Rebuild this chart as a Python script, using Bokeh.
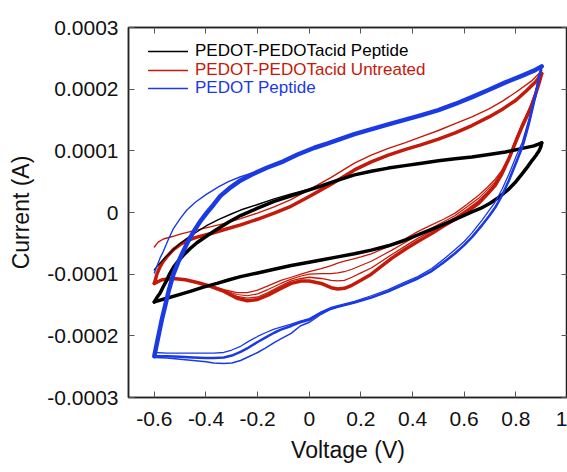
import numpy as np
from bokeh.plotting import figure
from bokeh.models import (Range1d, LinearAxis, FixedTicker, CustomJSTickFormatter,
                          Legend, LegendItem)
from bokeh.embed import file_html
from bokeh.resources import INLINE

# ---------------- data (current values in units of 1e-4 A) ----------------
UNIT = 1e-4

x_ticks = [-0.6, -0.4, -0.2, 0.0, 0.2, 0.4, 0.6, 0.8, 1.0]
y_ticks = [-3e-4, -2e-4, -1e-4, 0.0, 1e-4, 2e-4, 3e-4]

labels = ["PEDOT-PEDOTacid Peptide", "PEDOT-PEDOTacid Untreated", "PEDOT Peptide"]

# PEDOT-PEDOTacid Peptide (black)
v_blk_fwd1 = [-0.6, -0.585, -0.565, -0.545, -0.526, -0.5, -0.46, -0.43, -0.396, -0.35,
              -0.3, -0.266, -0.2, -0.136, -0.07, 0.0, 0.046]
i_blk_fwd1 = [-0.93, -0.85, -0.76, -0.68, -0.60, -0.50, -0.38, -0.30, -0.21, -0.11,
              -0.02, 0.04, 0.13, 0.22, 0.30, 0.38, 0.44]
v_blk_fwd = [-0.6, -0.59, -0.578, -0.565, -0.552, -0.54, -0.526, -0.51, -0.487, -0.46,
             -0.435, -0.4, -0.357, -0.31, -0.266, -0.2, -0.136, -0.07, -0.006, 0.046,
             0.1, 0.175, 0.24, 0.306, 0.37, 0.435, 0.5, 0.565, 0.63, 0.696, 0.76,
             0.825, 0.87, 0.9]
i_blk_fwd = [-1.45, -1.38, -1.31, -1.20, -1.10, -0.99, -0.89, -0.80, -0.69, -0.58,
             -0.49, -0.39, -0.27, -0.15, -0.05, 0.07, 0.18, 0.27, 0.36, 0.43,
             0.51, 0.61, 0.67, 0.72, 0.76, 0.80, 0.84, 0.87, 0.90, 0.94, 0.98,
             1.04, 1.08, 1.13]
v_blk_rev = [0.9, 0.897, 0.89, 0.877, 0.864, 0.845, 0.825, 0.8, 0.77, 0.735, 0.7,
             0.665, 0.63, 0.565, 0.5, 0.435, 0.37, 0.306, 0.24, 0.175, 0.11, 0.046,
             -0.006, -0.07, -0.136, -0.2, -0.266, -0.31, -0.357, -0.41, -0.461,
             -0.51, -0.552, -0.6]
i_blk_rev = [1.13, 1.07, 1.00, 0.92, 0.85, 0.74, 0.63, 0.50, 0.37, 0.25, 0.15,
             0.07, 0.01, -0.11, -0.23, -0.34, -0.45, -0.54, -0.61, -0.67, -0.72, -0.77,
             -0.81, -0.86, -0.92, -0.98, -1.04, -1.09, -1.15, -1.21, -1.28,
             -1.34, -1.39, -1.45]

# PEDOT-PEDOTacid Untreated (red)
v_red_fwd1 = [-0.6, -0.585, -0.565, -0.53, -0.5, -0.461, -0.4, -0.331, -0.266, -0.201,
              -0.136, -0.071, 0.0, 0.085, 0.175, 0.24, 0.306, 0.37, 0.435, 0.5,
              0.565, 0.63, 0.696, 0.75, 0.8, 0.86, 0.9]
i_red_fwd1 = [-0.56, -0.48, -0.43, -0.39, -0.35, -0.31, -0.25, -0.18, -0.10, -0.01,
              0.09, 0.21, 0.37, 0.57, 0.80, 0.93, 1.04, 1.13, 1.23, 1.33,
              1.44, 1.55, 1.68, 1.81, 1.95, 2.13, 2.30]
v_red_fwd = [-0.6, -0.59, -0.578, -0.565, -0.552, -0.526, -0.5, -0.47, -0.435, -0.38,
             -0.331, -0.266, -0.201, -0.136, -0.071, 0.0, 0.085, 0.175, 0.24, 0.306,
             0.37, 0.435, 0.5, 0.565, 0.63, 0.696, 0.75, 0.8, 0.84, 0.877, 0.9]
i_red_fwd = [-1.15, -1.00, -0.88, -0.79, -0.72, -0.60, -0.52, -0.45, -0.40, -0.34,
             -0.28, -0.20, -0.11, -0.01, 0.10, 0.26, 0.46, 0.69, 0.82, 0.93,
             1.02, 1.10, 1.19, 1.29, 1.41, 1.55, 1.68, 1.82, 1.97, 2.12, 2.25]
v_red_rev = [0.9, 0.89, 0.875, 0.86, 0.845, 0.825, 0.8, 0.773, 0.745, 0.72, 0.69,
             0.656, 0.61, 0.565, 0.52, 0.474, 0.42, 0.37, 0.32, 0.28, 0.24, 0.2,
             0.165, 0.136, 0.11, 0.085, 0.046, 0.0, -0.032, -0.07, -0.11, -0.16,
             -0.2, -0.24, -0.28, -0.33, -0.38, -0.43, -0.48, -0.526, -0.57, -0.6]
i_red_rev1 = [2.30, 2.16, 1.95, 1.77, 1.62, 1.45, 1.20, 0.90, 0.68, 0.54, 0.41,
              0.28, 0.13, -0.01, -0.11, -0.20, -0.31, -0.43, -0.53, -0.60, -0.67, -0.72,
              -0.76, -0.79, -0.82, -0.86, -0.91, -0.96, -1.00, -1.05, -1.10, -1.19,
              -1.26, -1.30, -1.30, -1.25, -1.19, -1.14, -1.09, -1.07, -1.09, -1.13]
i_red_rev2 = [2.27, 2.13, 1.93, 1.75, 1.60, 1.43, 1.18, 0.89, 0.66, 0.50, 0.37,
              0.23, 0.09, -0.05, -0.15, -0.25, -0.37, -0.49, -0.61, -0.70, -0.79, -0.86,
              -0.92, -0.96, -0.98, -0.99, -0.99, -1.00, -1.03, -1.08, -1.15, -1.25,
              -1.32, -1.35, -1.33, -1.26, -1.19, -1.14, -1.09, -1.07, -1.09, -1.14]
i_red_rev3 = [2.26, 2.11, 1.91, 1.73, 1.59, 1.41, 1.16, 0.88, 0.64, 0.47, 0.33,
              0.19, 0.05, -0.08, -0.19, -0.30, -0.42, -0.55, -0.68, -0.79, -0.90, -0.98,
              -1.05, -1.10, -1.11, -1.10, -1.07, -1.05, -1.07, -1.11, -1.19, -1.30,
              -1.37, -1.39, -1.36, -1.27, -1.20, -1.14, -1.09, -1.07, -1.09, -1.15]
i_red_rev = [2.25, 2.10, 1.90, 1.72, 1.58, 1.40, 1.15, 0.87, 0.62, 0.44, 0.30,
             0.15, 0.01, -0.11, -0.22, -0.34, -0.47, -0.60, -0.74, -0.87, -1.00, -1.10,
             -1.18, -1.23, -1.24, -1.22, -1.15, -1.11, -1.11, -1.15, -1.23, -1.34,
             -1.41, -1.43, -1.39, -1.28, -1.20, -1.14, -1.09, -1.07, -1.09, -1.15]

# PEDOT Peptide (blue)
v_blu_fwd1 = [-0.6, -0.59, -0.578, -0.565, -0.547, -0.526, -0.5, -0.474, -0.44, -0.4,
              -0.35, -0.313, -0.266, -0.22]
i_blu_fwd1 = [-0.98, -0.87, -0.74, -0.63, -0.45, -0.26, -0.10, 0.04, 0.17, 0.29,
              0.42, 0.50, 0.58, 0.64]
v_blu_fwd = [-0.6, -0.59, -0.58, -0.57, -0.559, -0.545, -0.526, -0.507, -0.487, -0.468,
             -0.448, -0.42, -0.396, -0.37, -0.344, -0.31, -0.266, -0.22, -0.162, -0.1,
             -0.045, 0.02, 0.072, 0.175, 0.306, 0.435, 0.5, 0.565, 0.63, 0.696, 0.76,
             0.825, 0.87, 0.9]
i_blu_fwd = [-2.33, -2.12, -1.92, -1.72, -1.53, -1.28, -1.00, -0.80, -0.62, -0.46,
             -0.31, -0.13, 0.00, 0.13, 0.27, 0.39, 0.52, 0.62, 0.73, 0.83,
             0.94, 1.05, 1.12, 1.27, 1.43, 1.58, 1.66, 1.76, 1.87, 1.99, 2.11,
             2.22, 2.30, 2.37]
v_blu_rev = [0.9, 0.89, 0.877, 0.864, 0.851, 0.838, 0.825, 0.8, 0.773, 0.747, 0.72,
             0.696, 0.67, 0.63, 0.6, 0.565, 0.52, 0.474, 0.42, 0.37, 0.306, 0.24,
             0.175, 0.11, 0.085, 0.046, 0.0, -0.035, -0.07, -0.11, -0.136, -0.17,
             -0.2, -0.235, -0.266, -0.3, -0.331, -0.37, -0.4, -0.45, -0.5, -0.55, -0.6]
i_blu_rev1 = [2.37, 2.22, 1.97, 1.74, 1.52, 1.33, 1.14, 0.90, 0.62, 0.38, 0.17,
              0.03, -0.12, -0.33, -0.47, -0.60, -0.76, -0.91, -1.04, -1.13, -1.25, -1.35,
              -1.44, -1.51, -1.54, -1.61, -1.72, -1.76, -1.81, -1.86, -1.89, -1.95,
              -2.01, -2.09, -2.17, -2.23, -2.27, -2.28, -2.28, -2.28, -2.28, -2.28, -2.27]
i_blu_rev = [2.37, 2.20, 1.92, 1.68, 1.45, 1.25, 1.06, 0.80, 0.52, 0.28, 0.08,
             -0.06, -0.20, -0.40, -0.53, -0.66, -0.81, -0.95, -1.07, -1.16, -1.28, -1.38,
             -1.46, -1.53, -1.56, -1.63, -1.74, -1.78, -1.84, -1.90, -1.95, -2.03,
             -2.10, -2.19, -2.26, -2.32, -2.35, -2.36, -2.36, -2.35, -2.34, -2.33, -2.33]
i_blu_rev3 = [2.37, 2.20, 1.92, 1.68, 1.45, 1.25, 1.06, 0.80, 0.52, 0.28, 0.08,
              -0.06, -0.20, -0.40, -0.53, -0.66, -0.81, -0.95, -1.07, -1.16, -1.28, -1.38,
              -1.46, -1.53, -1.56, -1.65, -1.78, -1.84, -1.96, -2.05, -2.11, -2.20,
              -2.27, -2.34, -2.40, -2.44, -2.45, -2.44, -2.42, -2.40, -2.38, -2.36, -2.35]

BLACK, RED, BLUE = "#000000", "#c41a0a", "#1a3ae6"
FONT = "Liberation Sans"


def A(vals):
    return np.asarray(vals) * UNIT


p = figure(width=567, height=472, x_range=Range1d(-0.7, 1.0),
           y_range=Range1d(-3e-4, 3e-4), output_backend="svg", toolbar_location=None,
           min_border_left=128, min_border_right=0, min_border_top=27,
           min_border_bottom=75)
p.background_fill_color = "white"
p.border_fill_color = "white"
p.grid.visible = False
p.outline_line_color = "#222222"
p.outline_line_width = 1.5

LJ = dict(line_join="round", line_cap="round")

# red
p.line(v_red_fwd, A(i_red_fwd), line_color=RED, line_width=3.5, **LJ)
p.line(v_red_rev, A(i_red_rev), line_color=RED, line_width=3.5, **LJ)
p.line(v_red_rev, A(i_red_rev3), line_color=RED, line_width=1.3, **LJ)
p.line(v_red_rev, A(i_red_rev2), line_color=RED, line_width=1.2, **LJ)
r_red = p.line(v_red_fwd1, A(i_red_fwd1), line_color=RED, line_width=1.4, **LJ)
p.line(v_red_rev, A(i_red_rev1), line_color=RED, line_width=1.3, **LJ)

# black
p.line(v_blk_fwd, A(i_blk_fwd), line_color=BLACK, line_width=3.5, **LJ)
p.line(v_blk_rev, A(i_blk_rev), line_color=BLACK, line_width=3.5, **LJ)
r_blk = p.line(v_blk_fwd1, A(i_blk_fwd1), line_color=BLACK, line_width=1.4, **LJ)

# blue
p.line(v_blu_fwd, A(i_blu_fwd), line_color=BLUE, line_width=4.5, **LJ)
p.line(v_blu_rev, A(i_blu_rev), line_color=BLUE, line_width=2.5, **LJ)
p.line(v_blu_rev, A(i_blu_rev1), line_color=BLUE, line_width=1.3, **LJ)
p.line(v_blu_rev, A(i_blu_rev3), line_color=BLUE, line_width=1.5, **LJ)
r_blu = p.line(v_blu_fwd1, A(i_blu_fwd1), line_color=BLUE, line_width=1.4, **LJ)

xfmt = CustomJSTickFormatter(code="""
if (Math.abs(tick) < 1e-9) return "0";
if (Math.abs(tick - 1) < 1e-9) return "1";
return tick.toFixed(1);
""")
yfmt = CustomJSTickFormatter(code="""
if (Math.abs(tick) < 1e-12) return "0";
return tick.toFixed(4);
""")
blank = CustomJSTickFormatter(code='return "";')


def style_axis(ax):
    ax.axis_line_color = "#222222"
    ax.axis_line_width = 1.5
    ax.major_tick_in = 6
    ax.major_tick_out = 0
    ax.major_tick_line_color = "#555555"
    ax.major_tick_line_width = 1
    ax.minor_tick_line_color = None
    ax.major_label_text_font = FONT
    ax.major_label_text_font_size = "21px"
    ax.major_label_text_color = "#111111"
    ax.axis_label_text_font = FONT
    ax.axis_label_text_font_size = "23px"
    ax.axis_label_text_font_style = "normal"
    ax.axis_label_text_color = "#111111"


xa = p.xaxis[0]
xa.ticker = FixedTicker(ticks=x_ticks)
xa.formatter = xfmt
xa.axis_label = "Voltage (V)"
style_axis(xa)
xa.major_label_standoff = 14
xa.axis_label_standoff = 8

ya = p.yaxis[0]
ya.ticker = FixedTicker(ticks=y_ticks)
ya.formatter = yfmt
ya.axis_label = "Current (A)"
style_axis(ya)
ya.major_label_standoff = 10
ya.axis_label_standoff = 10

top = LinearAxis(ticker=FixedTicker(ticks=x_ticks), formatter=blank,
                 major_label_standoff=0)
style_axis(top)
p.add_layout(top, "above")
right = LinearAxis(ticker=FixedTicker(ticks=y_ticks), formatter=blank,
                   major_label_standoff=0)
style_axis(right)
p.add_layout(right, "right")

for k, (lab, rend, col) in enumerate(zip(labels, [r_blk, r_red, r_blu],
                                         [BLACK, RED, BLUE])):
    lg = Legend(items=[LegendItem(label=lab, renderers=[rend])],
                location=(20, 336 - 18.7 * k), orientation="vertical",
                padding=0, margin=0, spacing=0, border_line_color=None,
                background_fill_alpha=0, glyph_width=40, glyph_height=18,
                label_height=18, label_standoff=7,
                label_text_font=FONT, label_text_font_size="17px",
                label_text_color=col, label_text_baseline="middle")
    p.add_layout(lg)

open("out.html", "w").write(file_html(p, INLINE))
